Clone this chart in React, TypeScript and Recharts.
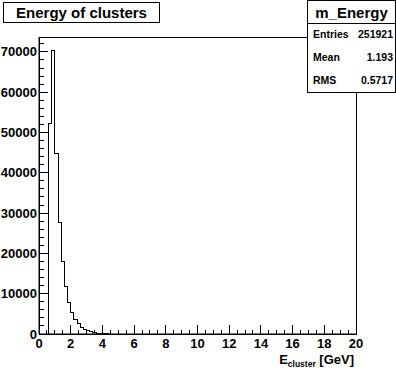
import React from 'react';
import { LineChart, Line, XAxis, YAxis, ReferenceArea } from 'recharts';

// histogram bins (0.2 GeV wide), empty below 0.6 GeV
const binWidth = 0.2;
const firstBin = 0.6;
const counts = [
  52200, 70250, 44800, 27600, 18100, 11800, 7850, 5370, 3700, 2500,
  1650, 1150, 750, 500, 300, 200, 120, 60, 30,
];

const xMajor = [0, 2, 4, 6, 8, 10, 12, 14, 16, 18, 20];
const yMajor = [0, 10000, 20000, 30000, 40000, 50000, 60000, 70000];
const stats = [
  ['Entries', '251921'],
  ['Mean', '1.193'],
  ['RMS', '0.5717'],
];

const xMax = 20;
const yMax = 73700;

const data = [
  { x: 0, n: 0 },
  ...counts.map((c, i) => ({ x: +(firstBin + i * binWidth).toFixed(2), n: c })),
  { x: +(firstBin + counts.length * binWidth).toFixed(2), n: 0 },
  { x: xMax, n: 0 },
];

const xTicks: number[] = [];
for (let i = 0; i <= 40; i++) xTicks.push(i * 0.5);
const yTicks: number[] = [];
for (let i = 0; i <= 36; i++) yTicks.push(i * 2000);

const font = '"Liberation Sans", Arial, Helvetica, sans-serif';

const XTick = (props: any) => {
  const { x, y, payload } = props;
  const major = xMajor.includes(payload.value);
  return (
    <g>
      <line x1={x} x2={x} y1={y} y2={y - (major ? 9 : 4.5)} stroke="#000" shapeRendering="crispEdges" />
      {major && (
        <text x={x} y={y + 14} textAnchor="middle" fontFamily={font} fontWeight="bold" fontSize={13} fill="#000">
          {payload.value}
        </text>
      )}
    </g>
  );
};

const YTick = (props: any) => {
  const { x, y, payload } = props;
  const major = yMajor.includes(payload.value);
  return (
    <g>
      <line x1={x} x2={x + (major ? 9 : 4.5)} y1={y} y2={y} stroke="#000" shapeRendering="crispEdges" />
      {major && (
        <text x={x - 2} y={y + 4.5} textAnchor="end" fontFamily={font} fontWeight="bold" fontSize={13} fill="#000">
          {payload.value}
        </text>
      )}
    </g>
  );
};

export default function App() {
  return (
    <div style={{ position: 'absolute', left: 0, top: 0, width: 396, height: 372, background: '#fff', fontFamily: font }}>
      <LineChart width={396} height={372} data={data} margin={{ top: 37, right: 40, left: 0, bottom: 0 }}>
        <XAxis
          dataKey="x"
          type="number"
          domain={[0, xMax]}
          ticks={xTicks}
          interval={0}
          tickSize={0}
          tickMargin={0}
          tickLine={false}
          tick={XTick}
          height={38}
          axisLine={{ stroke: '#000' }}
          allowDataOverflow
        />
        <YAxis
          type="number"
          domain={[0, yMax]}
          ticks={yTicks}
          interval={0}
          tickSize={0}
          tickMargin={0}
          tickLine={false}
          tick={YTick}
          width={39}
          axisLine={{ stroke: '#000' }}
          allowDataOverflow
        />
        <ReferenceArea x1={0} x2={xMax} y1={0} y2={yMax} fill="none" stroke="#000" strokeWidth={1} ifOverflow="visible" shapeRendering="crispEdges" />
        <Line
          dataKey="n"
          type="stepAfter"
          stroke="#000"
          strokeWidth={1}
          dot={false}
          isAnimationActive={false}
          shapeRendering="crispEdges"
        />
      </LineChart>

      <div
        style={{
          position: 'absolute', left: 3, top: 2, width: 155, height: 19,
          border: '1px solid #000', background: '#fff',
          fontWeight: 'bold', fontSize: 15, lineHeight: '19px', textAlign: 'center',
        }}
      >
        Energy of clusters
      </div>

      <div
        style={{
          position: 'absolute', left: 307, top: 0, width: 87, height: 91,
          border: '1px solid #000', background: '#fff', fontWeight: 'bold',
        }}
      >
        <div style={{ height: 22, lineHeight: '24px', fontSize: 15, textAlign: 'center', borderBottom: '1px solid #000' }}>
          m_Energy
        </div>
        {stats.map(([k, v]) => (
          <div key={k} style={{ display: 'flex', justifyContent: 'space-between', height: 23, lineHeight: '21px', fontSize: 10.5, padding: '0 2px 0 5px' }}>
            <span>{k}</span>
            <span>{v}</span>
          </div>
        ))}
      </div>

      <div
        style={{
          position: 'absolute', right: 42, top: 352, fontWeight: 'bold', fontSize: 13,
          whiteSpace: 'nowrap', lineHeight: '16px',
        }}
      >
        E<sub style={{ fontSize: 8.5, verticalAlign: -3 }}>cluster</sub> [GeV]
      </div>
    </div>
  );
}
